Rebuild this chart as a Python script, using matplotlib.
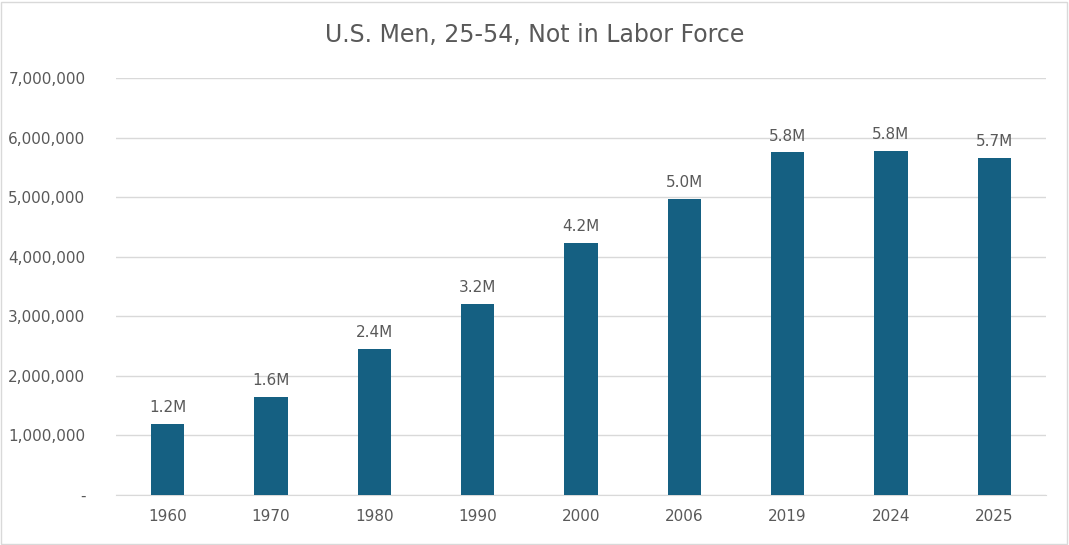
import matplotlib
matplotlib.use('Agg')
import matplotlib.pyplot as plt
from matplotlib.ticker import FuncFormatter

years = ["1960", "1970", "1980", "1990", "2000", "2006", "2019", "2024", "2025"]
values = [1200000, 1640000, 2450000, 3210000, 4230000, 4970000, 5750000, 5770000, 5660000]
labels = ["1.2M", "1.6M", "2.4M", "3.2M", "4.2M", "5.0M", "5.8M", "5.8M", "5.7M"]

grey = '#595959'
fig = plt.figure(figsize=(10.69, 5.45), dpi=100)
ax = fig.add_axes([116 / 1069, 50 / 545, 930 / 1069, 417 / 545])
fig.patches.append(plt.Rectangle((0.001, 0.002), 0.997, 0.995, transform=fig.transFigure,
                                 fill=False, edgecolor='#d9d9d9', linewidth=1))

x = range(len(years))
ax.bar(x, values, width=0.32, color='#156082', zorder=3)
for i, (v, lab) in enumerate(zip(values, labels)):
    ax.text(i, v + 150000, lab, ha='center', va='bottom', fontsize=11, color=grey)

ax.set_xlim(-0.5, len(years) - 0.5)
ax.set_ylim(0, 7000000)
ax.set_yticks(range(0, 7000001, 1000000))
ax.yaxis.set_major_formatter(FuncFormatter(lambda v, p: '-' if v == 0 else f"{int(v):,}"))
ax.set_xticks(list(x))
ax.set_xticklabels(years)
ax.tick_params(axis='both', length=0, labelsize=11, labelcolor=grey, pad=10)
ax.tick_params(axis='y', pad=22)
ax.grid(True, axis='y', color='#d9d9d9', linewidth=1, zorder=0)
for s in ['top', 'right', 'left']:
    ax.spines[s].set_visible(False)
ax.spines['bottom'].set_color('#d9d9d9')

fig.text(0.5, 0.935, "U.S. Men, 25-54, Not in Labor Force", ha='center', va='center',
         fontsize=17, color=grey)

plt.savefig('out.png', dpi=100)
